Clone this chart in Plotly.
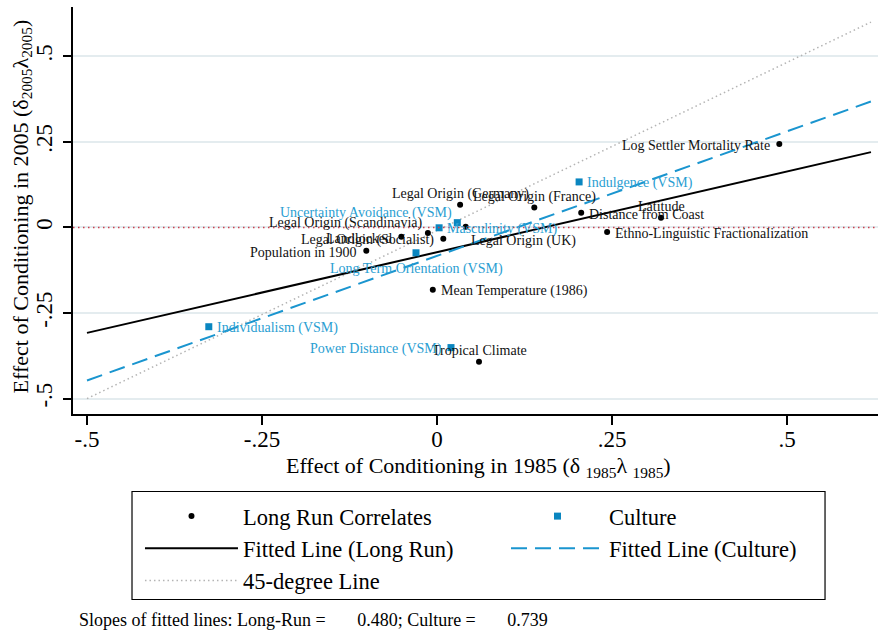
import plotly.graph_objects as go

# ---------------- data ----------------
lr_names = ["Log Settler Mortality Rate", "Legal Origin (Germany)", "Legal Origin (France)",
            "Legal Origin (Scandinavia)", "Landlocked", "Legal Origin (Socialist)",
            "Legal Origin (UK)", "Population in 1900", "Distance from Coast", "Latitude",
            "Ethno-Linguistic Fractionalization", "Mean Temperature (1986)", "Tropical Climate"]
lr_x = [0.489, 0.033, 0.139, -0.013, -0.051, 0.009, 0.041, -0.101, 0.206, 0.320, 0.243, -0.006, 0.060]
lr_y = [0.244, 0.066, 0.058, -0.016, -0.027, -0.033, 0.002, -0.068, 0.043, 0.028, -0.013, -0.182, -0.392]

cu_names = ["Indulgence (VSM)", "Uncertainty Avoidance (VSM)", "Masculinity (VSM)",
            "Long Term Orientation (VSM)", "Individualism (VSM)", "Power Distance (VSM)"]
cu_x = [0.203, 0.029, 0.003, -0.030, -0.326, 0.020]
cu_y = [0.133, 0.014, -0.001, -0.074, -0.290, -0.351]

fit_x = [-0.5, 0.62]
lr_fit_y = [-0.308, 0.220]
cu_fit_y = [-0.447, 0.368]
diag_x = [-0.5, 0.62]
diag_y = [-0.5, 0.60]
ref_y = 0

tick_vals = [-0.5, -0.25, 0, 0.25, 0.5]
tick_text = ["-.5", "-.25", "0", ".25", ".5"]

slope_lr = "0.480"
slope_cu = "0.739"

x_title = "Effect of Conditioning in 1985 (δ <sub>1985</sub>λ <sub>1985</sub>)"
y_title = "Effect of Conditioning in 2005 (δ<sub>2005</sub>λ<sub>2005</sub>)"

# ---------------- styling ----------------
lr_pos = ["left", "top", "top", "topleft", "left", "left", "bottomright", "left",
          "right", "top", "right", "right", "top"]
cu_pos = ["right", "topleft", "right", "bottom", "right", "left"]

FONT = "Liberation Serif, Times New Roman, serif"
BLUE_M = "#0a86c0"
BLUE_L = "#1a95cf"
BLUE_T = "#2a9ed2"

POS = {
    "left": dict(xanchor="right", yanchor="middle", xshift=-7, yshift=-1.5),
    "right": dict(xanchor="left", yanchor="middle", xshift=6, yshift=-1.5),
    "top": dict(xanchor="center", yanchor="middle", xshift=0, yshift=11),
    "topleft": dict(xanchor="right", yanchor="middle", xshift=-3, yshift=10),
    "bottomright": dict(xanchor="left", yanchor="middle", xshift=3, yshift=-14),
    "bottom": dict(xanchor="center", yanchor="middle", xshift=0, yshift=-16),
}

fig = go.Figure()

fig.add_trace(go.Scatter(x=diag_x, y=diag_y, mode="lines", name="45-degree Line",
                         line=dict(color="#b4b4b4", width=1.5, dash="1.5px,3px"),
                         legend="legend", legendrank=3))
fig.add_trace(go.Scatter(x=fit_x, y=lr_fit_y, mode="lines", name="Fitted Line (Long Run)",
                         line=dict(color="black", width=2), legend="legend", legendrank=2))
fig.add_trace(go.Scatter(x=fit_x, y=cu_fit_y, mode="lines", name="Fitted Line (Culture)",
                         line=dict(color=BLUE_L, width=2, dash="16px,8px"),
                         legend="legend2", legendrank=2))
fig.add_trace(go.Scatter(x=lr_x, y=lr_y, mode="markers", name="Long Run Correlates",
                         marker=dict(color="black", size=6, symbol="circle"),
                         text=lr_names, legend="legend", legendrank=1))
fig.add_trace(go.Scatter(x=cu_x, y=cu_y, mode="markers", name="Culture",
                         marker=dict(color=BLUE_M, size=7, symbol="square"),
                         text=cu_names, legend="legend2", legendrank=1))

annotations = []
for n, x, y, p in zip(lr_names, lr_x, lr_y, lr_pos):
    annotations.append(dict(x=x, y=y, xref="x", yref="y", text=n, showarrow=False,
                            font=dict(family=FONT, size=14, color="#111111"), **POS[p]))
for n, x, y, p in zip(cu_names, cu_x, cu_y, cu_pos):
    annotations.append(dict(x=x, y=y, xref="x", yref="y", text=n, showarrow=False,
                            font=dict(family=FONT, size=14, color=BLUE_T), **POS[p]))

# axis titles
annotations.append(dict(x=0.504, y=-0.129, xref="paper", yref="paper", xanchor="center",
                        yanchor="middle", showarrow=False, text=x_title,
                        font=dict(family=FONT, size=22, color="black")))
annotations.append(dict(x=-0.0634, y=0.51, xref="paper", yref="paper", xanchor="center",
                        yanchor="middle", showarrow=False, text=y_title, textangle=-90,
                        font=dict(family=FONT, size=22, color="black")))
# footnote
annotations.append(dict(
    x=0.005, y=-0.505, xref="paper", yref="paper", xanchor="left", yanchor="middle",
    showarrow=False, font=dict(family=FONT, size=18, color="black"),
    text=("Slopes of fitted lines: Long-Run =" + "\u00a0" * 7 + slope_lr
          + "; Culture =" + "\u00a0" * 7 + slope_cu)))

legend_common = dict(orientation="v", xanchor="left", yanchor="top", y=-0.199,
                     borderwidth=0, bgcolor="rgba(0,0,0,0)",
                     font=dict(family=FONT, size=22.5, color="black"),
                     itemwidth=93, traceorder="normal")

fig.update_layout(
    width=878, height=633,
    margin=dict(l=73, r=0, t=7, b=219),
    paper_bgcolor="white", plot_bgcolor="white",
    font=dict(family=FONT, color="black"),
    showlegend=True,
    legend=dict(x=0.0832, **legend_common),
    legend2=dict(x=0.5379, **legend_common),
    annotations=annotations,
    shapes=[
        dict(type="line", xref="paper", yref="y", x0=0, x1=1, y0=ref_y, y1=ref_y,
             line=dict(color="#c8404f", width=1.5, dash="1.5px,3.5px"), layer="above"),
        # legend frame
        dict(type="rect", xref="paper", yref="paper", x0=0.0733, x1=0.9342,
             y0=-0.4558, y1=-0.1904, line=dict(color="black", width=1.2),
             fillcolor="rgba(0,0,0,0)", layer="above"),
    ],
)

fig.update_xaxes(range=[-0.52, 0.63], tickvals=tick_vals, ticktext=tick_text,
                 showgrid=False, zeroline=False, showline=True, linecolor="black",
                 linewidth=1.5, ticks="outside", ticklen=9, tickwidth=1.5, tickcolor="black",
                 tickfont=dict(family=FONT, size=23), ticklabelstandoff=-5,
                 automargin=False)
fig.update_yaxes(range=[-0.545, 0.644], tickvals=tick_vals, ticktext=tick_text,
                 showgrid=True, gridcolor="#e4ecef", gridwidth=2,
                 zeroline=False, showline=True, linecolor="black",
                 linewidth=1.5, ticks="outside", ticklen=8, tickwidth=1.5, tickcolor="black",
                 tickangle=-90, tickfont=dict(family=FONT, size=23), ticklabelstandoff=2,
                 automargin=False)

fig.write_html("out.html", config={"displayModeBar": False},
               post_script="document.body.style.margin='0px';")
